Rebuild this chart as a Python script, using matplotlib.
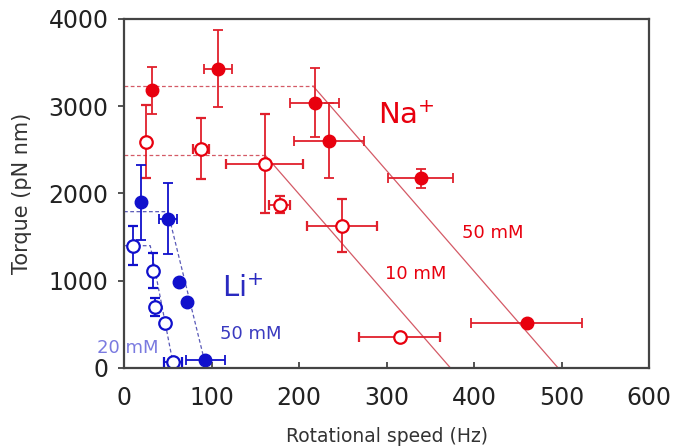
import matplotlib
matplotlib.use("Agg")
import matplotlib.pyplot as plt

# Na+ 50 mM (filled red)
na50_x = [32, 107, 218, 234, 339, 460]
na50_y = [3180, 3430, 3040, 2600, 2170, 510]
na50_xerr = [0, 16, 28, 40, 37, 63]
na50_yerr = [270, 440, 400, 430, 110, 0]

# Na+ 10 mM (open red)
na10_x = [25, 88, 161, 178, 249, 315]
na10_y = [2590, 2510, 2340, 1870, 1630, 350]
na10_xerr = [0, 9, 44, 12, 40, 46]
na10_yerr = [420, 350, 570, 100, 300, 0]

# Li+ 50 mM (filled blue)
li50_x = [19, 50, 63, 72, 93]
li50_y = [1900, 1710, 980, 750, 95]
li50_xerr = [0, 10, 0, 0, 22]
li50_yerr = [430, 410, 0, 0, 0]

# Li+ 20 mM (open blue)
li20_x = [10, 33, 35, 47, 56]
li20_y = [1400, 1115, 700, 510, 65]
li20_xerr = [0, 0, 0, 0, 10]
li20_yerr = [220, 200, 100, 0, 0]

# torque-speed guide lines: horizontal (stall torque) then linear drop
na50_line_x = [0, 216, 496]
na50_line_y = [3230, 3230, 0]
na10_line_x = [0, 161, 373]
na10_line_y = [2440, 2440, 0]
li50_line_x = [0, 50, 94]
li50_line_y = [1790, 1790, 0]
li20_line_x = [0, 30, 57]
li20_line_y = [1400, 1400, 0]

red = '#e8000e'
red_err = '#e0202c'
red_line = '#d45a66'
blue = '#1010cc'
blue_line = '#5a5ab8'

fig = plt.figure(figsize=(6.74, 4.47), dpi=100)
ax = fig.add_axes([0.184, 0.177, 0.779, 0.781])

# guide lines
for lx, ly in [(na50_line_x, na50_line_y), (na10_line_x, na10_line_y)]:
    ax.plot(lx[:2], ly[:2], color=red_line, lw=0.9, ls=(0, (3, 2)))
    ax.plot(lx[1:], ly[1:], color=red_line, lw=0.9)
for lx, ly in [(li50_line_x, li50_line_y), (li20_line_x, li20_line_y)]:
    ax.plot(lx, ly, color=blue_line, lw=0.9, ls=(0, (3, 2)))

ekw = dict(capsize=3.5, elinewidth=1.3, capthick=1.3, ms=9, ls='none')
ax.errorbar(na50_x, na50_y, xerr=na50_xerr, yerr=na50_yerr, fmt='o', color=red,
            ecolor=red_err, mfc=red, mec=red, **ekw)
ax.errorbar(na10_x, na10_y, xerr=na10_xerr, yerr=na10_yerr, fmt='o', color=red,
            ecolor=red_err, mfc='white', mec=red, mew=1.6, **ekw)
ax.errorbar(li50_x, li50_y, xerr=li50_xerr, yerr=li50_yerr, fmt='o', color=blue,
            ecolor=blue, mfc=blue, mec=blue, **ekw)
ax.errorbar(li20_x, li20_y, xerr=li20_xerr, yerr=li20_yerr, fmt='o', color=blue,
            ecolor=blue, mfc='white', mec=blue, mew=1.6, **ekw)

# labels
ax.text(290, 2890, r'Na$^{+}$', color=red, fontsize=21, va='center', ha='left')
ax.text(386, 1549, '50 mM', color=red, fontsize=13, va='center', ha='left')
ax.text(298, 1080, '10 mM', color=red, fontsize=13, va='center', ha='left')
ax.text(112, 909, r'Li$^{+}$', color='#2a2ac0', fontsize=21, va='center', ha='left')
ax.text(110, 383, '50 mM', color='#3a3ac0', fontsize=13, va='center', ha='left')
ax.text(-31, 223, '20 mM', color='#7a7ae0', fontsize=13, va='center', ha='left',
        clip_on=False)

ax.set_xlim(0, 600)
ax.set_ylim(0, 4000)
ax.set_xticks([0, 100, 200, 300, 400, 500, 600])
ax.set_yticks([0, 1000, 2000, 3000, 4000])

for s in ax.spines.values():
    s.set_color('#444444')
    s.set_linewidth(1.6)

ax.tick_params(axis='x', direction='in', length=4, width=1.3, color='#444444',
               labelsize=17, labelcolor='#222222', pad=13, top=False)
ax.tick_params(axis='y', direction='out', length=4, width=1.3, color='#444444',
               labelsize=17, labelcolor='#222222', pad=7, right=False)

ax.set_xlabel('Rotational speed (Hz)', fontsize=13.5, color='#333333', labelpad=12)
ax.set_ylabel('Torque (pN nm)', fontsize=15, color='#333333', labelpad=12)

fig.savefig('out.png', dpi=100)
